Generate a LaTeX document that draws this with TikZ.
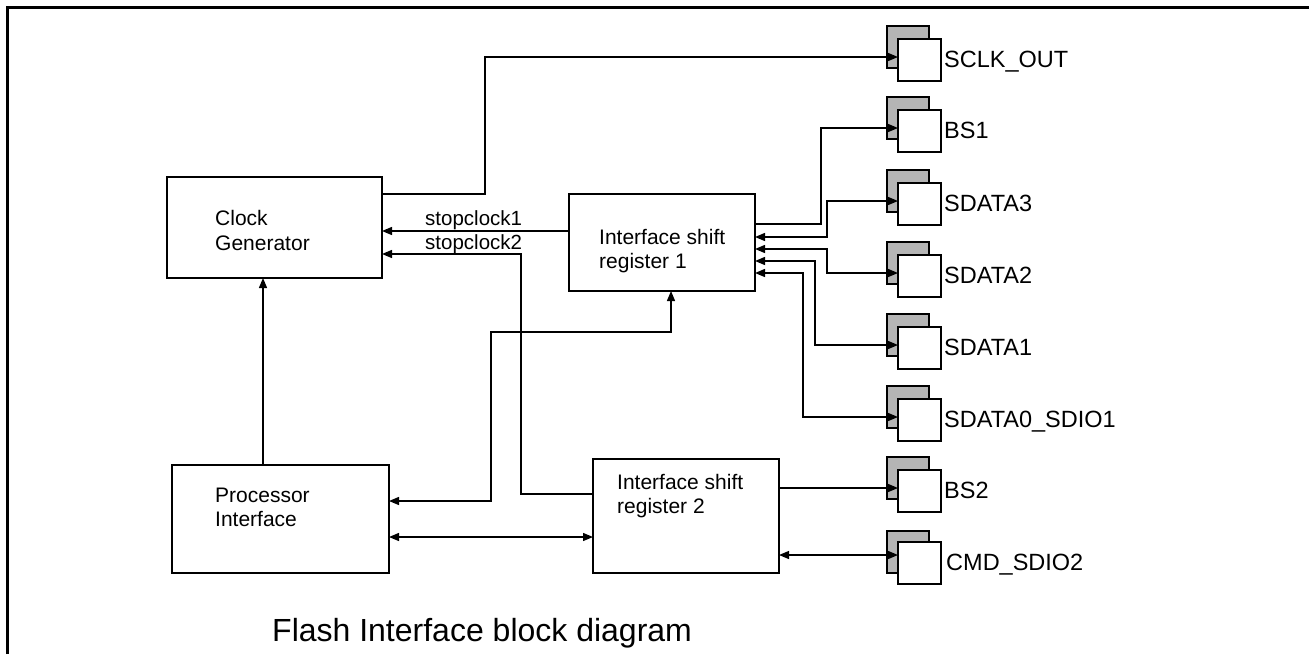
\documentclass[tikz,border=0pt]{standalone}
\usepackage{fontspec}
\setmainfont{Liberation Sans}
\usetikzlibrary{arrows.meta}
\newcommand\mypin[3]{%
  \node[shad] (#1s) at (908,{#2-10}) {};
  \node[wbox] (#1) at (919.5,{#2+3}) {};
  \node[pinlbl] (#1l) at (944,{#2+10}) {#3};}
\begin{document}
\begin{tikzpicture}[x=1pt,y=-1pt,
  >={Triangle[length=10pt,width=8pt]},
  box/.style={draw,line width=1.4pt,inner sep=0pt,outer sep=0pt},
  shad/.style={draw,line width=1.4pt,fill=gray!58,minimum width=42pt,minimum height=42pt,inner sep=0pt,outer sep=0pt},
  wbox/.style={draw,line width=1.4pt,fill=white,minimum width=43pt,minimum height=42pt,inner sep=0pt,outer sep=0pt},
  conn/.style={line width=1.3pt},
  lbl/.style={font=\fontsize{21}{25}\selectfont,inner sep=0pt,anchor=base west},
  pinlbl/.style={font=\fontsize{23.5}{28}\selectfont,inner sep=0pt,anchor=base west},
  sclbl/.style={font=\fontsize{20.5}{24}\selectfont,inner sep=0pt,anchor=base west},
  caplbl/.style={font=\fontsize{32}{38}\selectfont,inner sep=0pt,anchor=base west}]
\useasboundingbox (0,0) rectangle (1309,654);
% frame
\draw[line width=3pt] (7.5,654) -- (7.5,7.5) -- (1309,7.5);
% blocks
\node[box,minimum width=215pt,minimum height=101pt] (clk) at (274.5,227.5) {};
\node[box,minimum width=186pt,minimum height=97pt] (sr1) at (662,242.5) {};
\node[box,minimum width=217pt,minimum height=108pt] (proc) at (280.5,519) {};
\node[box,minimum width=186pt,minimum height=114pt] (sr2) at (686,516) {};
\node[lbl] (clkt1) at (215,225) {Clock};
\node[lbl] (clkt2) at (215,250) {Generator};
\node[lbl] (sr1t1) at (599,244) {Interface shift};
\node[lbl] (sr1t2) at (599,268) {register 1};
\node[lbl] (proct1) at (215,502) {Processor};
\node[lbl] (proct2) at (215,526) {Interface};
\node[lbl] (sr2t1) at (617,489) {Interface shift};
\node[lbl] (sr2t2) at (617,513) {register 2};
% pins
\mypin{sclk}{57}{SCLK\_OUT}
\mypin{bsa}{128}{BS1}
\mypin{sdc}{201}{SDATA3}
\mypin{sdb}{273}{SDATA2}
\mypin{sda}{345}{SDATA1}
\mypin{sdz}{417}{SDATA0\_SDIO1}
\mypin{bsb}{488}{BS2}
\node[shad] (cmds) at (908,552) {};
\node[wbox] (cmd) at (919.5,563) {};
\node[pinlbl] (cmdl) at (946,570) {CMD\_SDIO2};
% connectors
\draw[conn,->] (clk.east |- 0,194) -- (485,194) -- (485,57) -- (sclk.west |- 0,57);
\draw[conn,->] (sr1.west |- 0,231) -- (clk.east |- 0,231);
\draw[conn,->] (sr2.west |- 0,494) -- (521,494) -- (521,254) -- (clk.east |- 0,254);
\node[sclbl] (sc1) at (425,225) {stopclock1};
\node[sclbl] (sc2) at (425,249) {stopclock2};
\draw[conn,->] (proc.north -| 263,0) -- (clk.south -| 263,0);
\draw[conn,<->] (sr1.south -| 671,0) -- (671,332) -- (491,332) -- (491,501) -- (proc.east |- 0,501);
\draw[conn,<->] (proc.east |- 0,537) -- (sr2.west |- 0,537);
\draw[conn,->] (sr1.east |- 0,224) -- (821,224) -- (821,128) -- (bsa.west |- 0,128);
\draw[conn,<->] (sr1.east |- 0,237) -- (827,237) -- (827,201) -- (sdc.west |- 0,201);
\draw[conn,<->] (sr1.east |- 0,249) -- (827,249) -- (827,273) -- (sdb.west |- 0,273);
\draw[conn,<->] (sr1.east |- 0,261) -- (815,261) -- (815,345) -- (sda.west |- 0,345);
\draw[conn,<->] (sr1.east |- 0,273) -- (803,273) -- (803,417) -- (sdz.west |- 0,417);
\draw[conn,->] (sr2.east |- 0,488) -- (bsb.west |- 0,488);
\draw[conn,<->] (sr2.east |- 0,555) -- (cmd.west |- 0,555);
% caption
\node[caplbl] (cap) at (272,641) {Flash Interface block diagram};
\end{tikzpicture}
\end{document}
